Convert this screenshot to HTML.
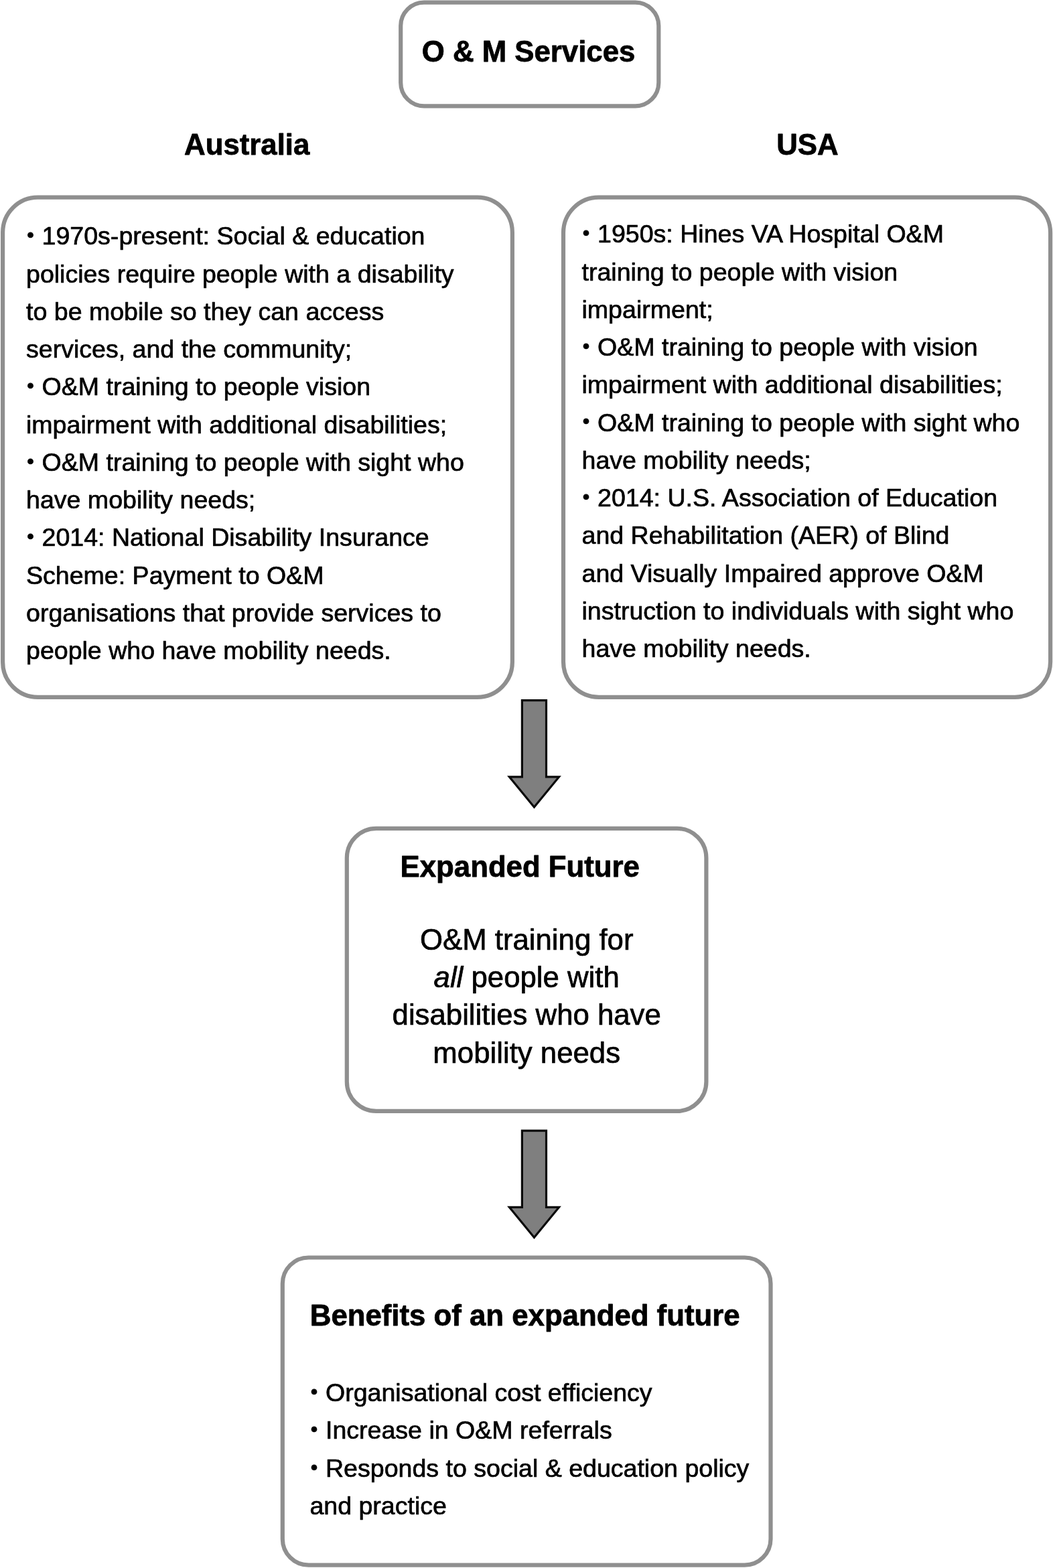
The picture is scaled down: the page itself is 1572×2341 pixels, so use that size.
<!DOCTYPE html>
<html lang="en">
<head>
<meta charset="utf-8">
<title>O &amp; M Services</title>
<style>
html,body{margin:0;padding:0;background:#fff;}
body{width:1572px;height:2341px;overflow:hidden;}
svg{display:block;will-change:transform;}
text{font-family:"Liberation Sans","Helvetica Neue",Helvetica,Arial,sans-serif;fill:#000;stroke:#000;stroke-linejoin:round;white-space:pre;}
.h{font-weight:bold;font-size:43.75px;stroke-width:0.8px;}
.b{font-size:37.56px;stroke-width:0.7px;}
.m{font-size:43.75px;stroke-width:0.7px;}
.bu{font-size:30px;}
</style>
</head>
<body>
<svg width="1572" height="2341" viewBox="0 0 1572 2341">
<rect width="1572" height="2341" fill="#fff"/>
<g fill="#fff" stroke="#8f8f8f" stroke-width="6.2">
<rect x="598.20" y="3.70" width="385.10" height="154.60" rx="34.90" ry="34.90"/>
<rect x="4.10" y="294.60" width="760.80" height="746.20" rx="52.40" ry="52.40"/>
<rect x="841.00" y="294.60" width="727.10" height="746.20" rx="52.90" ry="52.90"/>
<rect x="517.80" y="1236.90" width="536.60" height="422.00" rx="43.90" ry="43.90"/>
<rect x="421.80" y="1877.50" width="728.70" height="459.10" rx="38.90" ry="38.90"/>
</g>
<g fill="#7f7f7f" stroke="#0a0a0a" stroke-width="3.2" stroke-linejoin="miter" stroke-miterlimit="10">
<path d="M779.4 1045.60H815.5V1159.90H834.5L797.45 1204.90L760.4 1159.90H779.4Z"/>
<path d="M779.4 1688.10H815.5V1802.40H834.5L797.45 1847.40L760.4 1802.40H779.4Z"/>
</g>
<g>
<text class="h" x="629.80" y="92.00">O &amp; M Services</text>
<text class="h" x="275.10" y="230.60">Australia</text>
<text class="h" x="1159.15" y="230.60">USA</text>
<text class="b" x="39.00" y="365.30"><tspan class="bu" dx="1.32" dy="-4.2">•</tspan><tspan dx="1.32" dy="4.2"> 1970s-present: Social &amp; education</tspan></text>
<text class="b" x="39.00" y="421.55">policies require people with a disability</text>
<text class="b" x="39.00" y="477.80">to be mobile so they can access</text>
<text class="b" x="39.00" y="534.05">services, and the community;</text>
<text class="b" x="39.00" y="590.30"><tspan class="bu" dx="1.32" dy="-4.2">•</tspan><tspan dx="1.32" dy="4.2"> O&amp;M training to people vision</tspan></text>
<text class="b" x="39.00" y="646.55">impairment with additional disabilities;</text>
<text class="b" x="39.00" y="702.80"><tspan class="bu" dx="1.32" dy="-4.2">•</tspan><tspan dx="1.32" dy="4.2"> O&amp;M training to people with sight who</tspan></text>
<text class="b" x="39.00" y="759.05">have mobility needs;</text>
<text class="b" x="39.00" y="815.30"><tspan class="bu" dx="1.32" dy="-4.2">•</tspan><tspan dx="1.32" dy="4.2"> 2014: National Disability Insurance</tspan></text>
<text class="b" x="39.00" y="871.55">Scheme: Payment to O&amp;M</text>
<text class="b" x="39.00" y="927.80">organisations that provide services to</text>
<text class="b" x="39.00" y="984.05">people who have mobility needs.</text>
<text class="b" x="868.50" y="362.30"><tspan class="bu" dx="1.32" dy="-4.2">•</tspan><tspan dx="1.32" dy="4.2"> 1950s: Hines VA Hospital O&amp;M</tspan></text>
<text class="b" x="868.50" y="418.55">training to people with vision</text>
<text class="b" x="868.50" y="474.80">impairment;</text>
<text class="b" x="868.50" y="531.05"><tspan class="bu" dx="1.32" dy="-4.2">•</tspan><tspan dx="1.32" dy="4.2"> O&amp;M training to people with vision</tspan></text>
<text class="b" x="868.50" y="587.30">impairment with additional disabilities;</text>
<text class="b" x="868.50" y="643.55"><tspan class="bu" dx="1.32" dy="-4.2">•</tspan><tspan dx="1.32" dy="4.2"> O&amp;M training to people with sight who</tspan></text>
<text class="b" x="868.50" y="699.80">have mobility needs;</text>
<text class="b" x="868.50" y="756.05"><tspan class="bu" dx="1.32" dy="-4.2">•</tspan><tspan dx="1.32" dy="4.2"> 2014: U.S. Association of Education</tspan></text>
<text class="b" x="868.50" y="812.30">and Rehabilitation (AER) of Blind</text>
<text class="b" x="868.50" y="868.55">and Visually Impaired approve O&amp;M</text>
<text class="b" x="868.50" y="924.80">instruction to individuals with sight who</text>
<text class="b" x="868.50" y="981.05">have mobility needs.</text>
<text class="h" x="597.60" y="1308.70">Expanded Future</text>
<text class="m" x="786.20" y="1417.90" text-anchor="middle">O&amp;M training for</text>
<text class="m" x="786.20" y="1474.15" text-anchor="middle"><tspan font-style="italic">all</tspan> people with</text>
<text class="m" x="786.20" y="1530.40" text-anchor="middle">disabilities who have</text>
<text class="m" x="786.20" y="1586.65" text-anchor="middle">mobility needs</text>
<text class="h" x="462.80" y="1979.30">Benefits of an expanded future</text>
<text class="b" x="462.40" y="2092.20"><tspan class="bu" dx="1.32" dy="-4.2">•</tspan><tspan dx="1.32" dy="4.2"> Organisational cost efficiency</tspan></text>
<text class="b" x="462.40" y="2148.45"><tspan class="bu" dx="1.32" dy="-4.2">•</tspan><tspan dx="1.32" dy="4.2"> Increase in O&amp;M referrals</tspan></text>
<text class="b" x="462.40" y="2204.70"><tspan class="bu" dx="1.32" dy="-4.2">•</tspan><tspan dx="1.32" dy="4.2"> Responds to social &amp; education policy</tspan></text>
<text class="b" x="462.40" y="2260.95">and practice</text>
</g>
</svg>
</body>
</html>
